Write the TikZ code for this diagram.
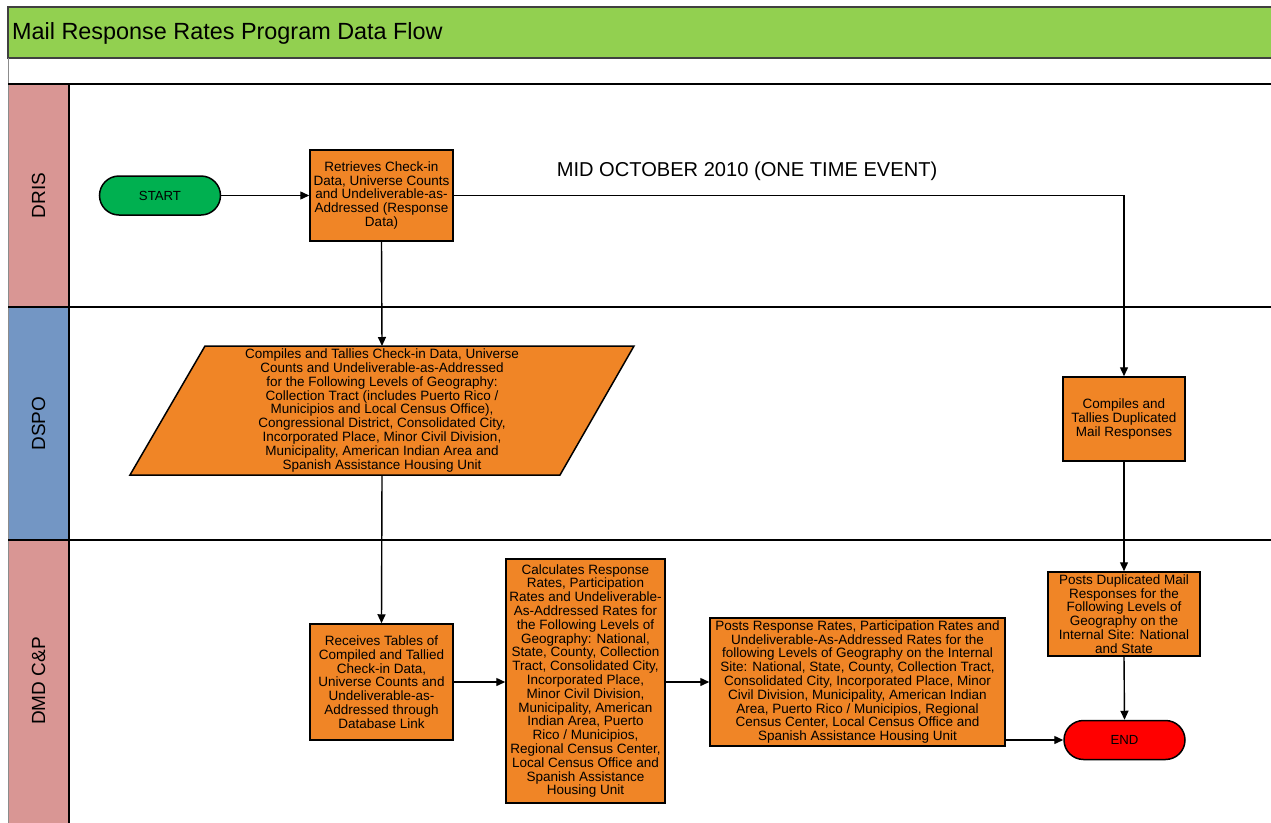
\documentclass[tikz,border=0pt]{standalone}
\usepackage{fontspec}
\setmainfont{Liberation Sans}
\usetikzlibrary{arrows.meta,shapes.misc}
\definecolor{titlegreen}{HTML}{92D050}
\definecolor{lanepink}{HTML}{D99694}
\definecolor{laneblue}{HTML}{7396C4}
\definecolor{procorange}{HTML}{F08526}
\definecolor{startgreen}{HTML}{00B050}
\definecolor{endred}{HTML}{FF0000}
\definecolor{framegray}{HTML}{404040}
\begin{document}
\begin{tikzpicture}[x=1pt,y=-1pt,
  proc/.style={draw=black, line width=1.5pt, fill=procorange, align=center,
    font=\fontsize{13.5}{13.8}\selectfont, inner sep=1pt},
  term/.style={draw=black, line width=1.5pt, shape=rounded rectangle,
    minimum width=121pt, minimum height=39pt, inner sep=0pt,
    font=\fontsize{13.2}{13.8}\selectfont},
  arr/.style={line width=1.4pt, -{Triangle[length=9pt,width=8pt]}},
  lane/.style={line width=1.2pt, black},
  lanelabel/.style={rotate=90, font=\fontsize{19}{22}\selectfont}]
\useasboundingbox (0,0) rectangle (1271,822);
% frame
\fill[titlegreen] (8,7) rectangle (1280,58);
\fill[lanepink] (8,84) rectangle (69,830);
\fill[laneblue] (8,307) rectangle (69,540);
\draw[framegray, line width=2pt] (1280,7) -- (8,7) -- (8,58) -- (1280,58);
\draw[black!45, line width=1pt] (8,58) -- (8,830);
\draw[lane] (8,84) -- (1280,84);
\draw[lane] (8,307) -- (1280,307);
\draw[lane] (8,540) -- (1280,540);
\draw[lane] (69,84) -- (69,830);
\node[anchor=west, font=\fontsize{23.4}{27}\selectfont, inner sep=0pt] (title) at (12,33) {Mail Response Rates Program Data Flow};
\node[lanelabel] (lDRIS) at (38.5,195.5) {DRIS};
\node[lanelabel] (lDSPO) at (38.5,423.5) {DSPO};
\node[lanelabel] (lDMD) at (38.5,681) {DMD C\&P};
% event label
\node[font=\fontsize{20.1}{23}\selectfont, inner sep=0pt] (event) at (747,171) {MID OCTOBER 2010 (ONE TIME EVENT)};
% nodes
\node[term, fill=startgreen] (start) at (160,195.5) {START};
\node[proc, minimum width=143pt, minimum height=91pt] (ret) at (381.5,195.5)
  {Retrieves Check-in\\Data, Universe Counts\\and Undeliverable-as-\\Addressed (Response\\Data)};
% parallelogram
\fill[procorange] (130,475) -- (205,346) -- (634,346) -- (560,475) -- cycle;
\draw[black, line width=1.5pt, line join=miter] (130,475) -- (205,346) -- (634,346) -- (560,475) -- cycle;
\coordinate (compTop) at (382,346);
\coordinate (compBot) at (382,475);
\node[align=center, font=\fontsize{13.5}{13.8}\selectfont, inner sep=0pt] (comp) at (382,410.5)
  {Compiles and Tallies Check-in Data, Universe\\Counts and Undeliverable-as-Addressed\\for the Following Levels of Geography:\\Collection Tract (includes Puerto Rico /\\Municipios and Local Census Office),\\Congressional District, Consolidated City,\\Incorporated Place, Minor Civil Division,\\Municipality, American Indian Area and\\Spanish Assistance Housing Unit};
\node[proc, minimum width=122pt, minimum height=84pt] (dup) at (1124,419)
  {Compiles and\\Tallies Duplicated\\Mail Responses};
\node[proc, minimum width=143pt, minimum height=116pt] (rec) at (381.5,682)
  {Receives Tables of\\Compiled and Tallied\\Check-in Data,\\Universe Counts and\\Undeliverable-as-\\Addressed through\\Database Link};
\node[proc, minimum width=159pt, minimum height=244pt] (calc) at (585.5,681)
  {Calculates Response\\Rates, Participation\\Rates and Undeliverable-\\As-Addressed Rates for\\the Following Levels of\\Geography: National,\\State, County, Collection\\Tract, Consolidated City,\\Incorporated Place,\\Minor Civil Division,\\Municipality, American\\Indian Area, Puerto\\Rico / Municipios,\\Regional Census Center,\\Local Census Office and\\Spanish Assistance\\Housing Unit};
\node[proc, minimum width=295pt, minimum height=128pt] (posts) at (857.5,682)
  {Posts Response Rates, Participation Rates and\\Undeliverable-As-Addressed Rates for the\\following Levels of Geography on the Internal\\Site: National, State, County, Collection Tract,\\Consolidated City, Incorporated Place, Minor\\Civil Division, Municipality, American Indian\\Area, Puerto Rico / Municipios, Regional\\Census Center, Local Census Office and\\Spanish Assistance Housing Unit};
\node[proc, minimum width=152pt, minimum height=84pt] (pdup) at (1124,614)
  {Posts Duplicated Mail\\Responses for the\\Following Levels of\\Geography on the\\Internal Site: National\\and State};
\node[term, fill=endred] (endn) at (1124.5,740) {END};
% connectors
\draw[arr] (start.east) -- (ret.west);
\draw[arr] (ret.east) -| (dup.north);
\draw[arr] (ret.south) -- (compTop);
\draw[arr] (compBot) -- (rec.north);
\draw[arr] (rec.east) -- (rec.east -| calc.west);
\draw[arr] (calc.east |- posts.west) -- (posts.west);
\draw[arr] (dup.south) -- (pdup.north);
\draw[arr] (pdup.south) -- (endn.north);
\draw[arr] (posts.east |- endn.west) -- (endn.west);
\end{tikzpicture}
\end{document}
